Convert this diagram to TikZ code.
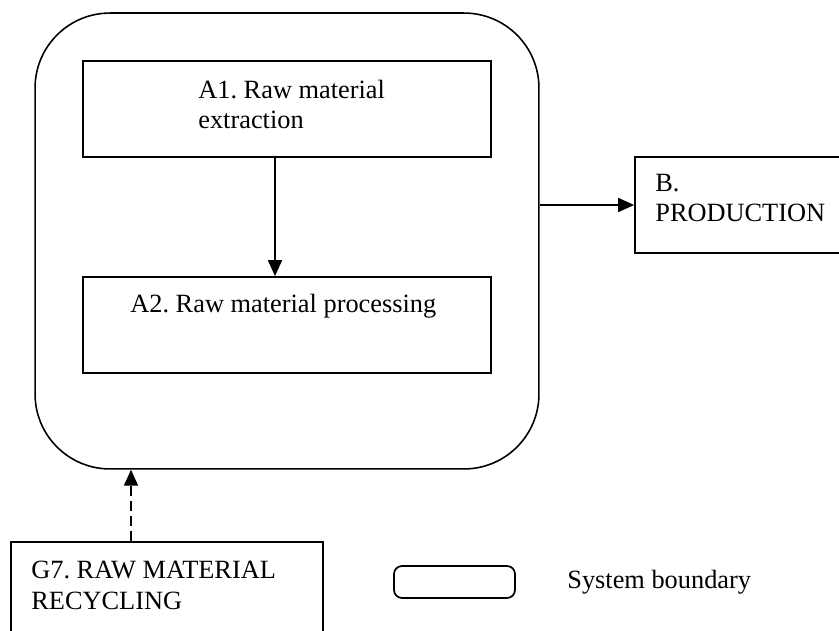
\documentclass[tikz,border=0pt]{standalone}
\usepackage{fontspec}
\setmainfont{Liberation Serif}
\usetikzlibrary{arrows.meta}
\frenchspacing

\begin{document}
\begin{tikzpicture}[x=0.02cm,y=-0.02cm,
        >={Triangle[length=0.32cm,width=0.28cm]},
        box/.style={draw,line width=1pt,minimum width=8.16cm,minimum height=1.92cm},
        txt/.style={anchor=base west,align=left,inner sep=0pt,font=\fontsize{15}{17.6}\selectfont}]
                \useasboundingbox (0,0) rectangle (839,631);
                % system boundary with the two steps inside
                \node[draw,line width=0.9pt,rounded corners=1.5cm,minimum width=10.08cm,minimum height=9.12cm] (sys) at (287,241) {};
                \node[box] (a1) at (287,109) {};
                \node[box] (a2) at (287,325) {};
                \node[box,minimum width=4.2cm] (prod) at (740,205) {};
                \node[box,minimum width=6.24cm] (g7) at (167,590) {};
                \node[draw,line width=1pt,rounded corners=0.16cm,minimum width=2.42cm,minimum height=0.64cm] (legend) at (454.5,582) {};
                % base is the last line here
                \node[txt] (a1txt) at (198,129) {A1. Raw material\\extraction};
                \node[txt] (a2txt) at (130,313) {A2. Raw material processing};
                \node[txt] (prodtxt) at (655,222) {B.\\PRODUCTION};
                \node[txt] (g7txt) at (31,609) {G7. RAW MATERIAL\\RECYCLING};
                \node[txt] (legendtxt) at (567,588) {System boundary};
                % flows
                \draw[->,line width=1pt] ([xshift=-0.24cm]a1.south) -- ([xshift=-0.24cm]a2.north);
                \draw[->,line width=1pt] (sys.east |- prod.west) -- (prod.west);
                \coordinate (rec) at ([xshift=-0.72cm]g7.north);
                \draw[->,line width=1pt,dash pattern=on 0.2cm off 0.1cm] (rec) -- (rec |- sys.south);
            \end{tikzpicture}
\end{document}
